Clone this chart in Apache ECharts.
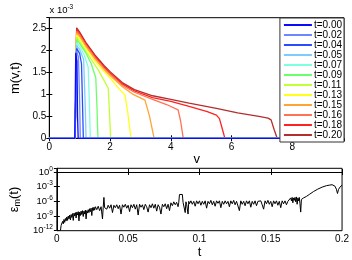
<!DOCTYPE html>
<html>
<head>
<meta charset="utf-8">
<script src="https://cdn.jsdelivr.net/npm/echarts@6/dist/echarts.min.js"></script>
<style>
html,body{margin:0;padding:0;background:#fff;}
#c{width:352px;height:260px;}
</style>
</head>
<body>
<div id="c"></div>
<script>
// ---- top panel data: m(v,t) in units of 1e-3, as [v, m] pairs ----
const legendNames = ['t=0.00','t=0.02','t=0.04','t=0.05','t=0.07','t=0.09','t=0.11','t=0.13','t=0.15','t=0.16','t=0.18','t=0.20'];
const c000 = [[0,0],[0.84,0],[0.87,1.95],[0.91,1.75],[0.93,0.5],[0.95,0],[9.7,0]];
const c002 = [[0,0],[0.85,0],[0.89,2.0],[0.96,1.85],[1.0,0.8],[1.02,0],[9.7,0]];
const c004 = [[0,0],[0.85,0],[0.9,2.05],[1.0,1.93],[1.06,1.7],[1.1,0.6],[1.12,0],[9.7,0]];
const c005 = [[0,0],[0.85,0],[0.9,2.12],[1.0,2.02],[1.13,1.8],[1.18,0.8],[1.21,0],[9.7,0]];
const c007 = [[0,0],[0.85,0],[0.9,2.18],[1.0,2.09],[1.15,1.9],[1.28,1.62],[1.32,0.8],[1.35,0],[9.7,0]];
const c009 = [[0,0],[0.85,0],[0.9,2.25],[1.0,2.16],[1.2,1.95],[1.38,1.7],[1.53,1.38],[1.57,0.7],[1.6,0],[9.7,0]];
const c011 = [[0,0],[0.85,0],[0.9,2.3],[1.0,2.21],[1.2,1.99],[1.4,1.78],[1.61,1.56],[1.8,1.32],[1.94,1.14],[1.98,0.6],[2.02,0],[9.7,0]];
const c013 = [[0,0],[0.85,0],[0.9,2.36],[1.0,2.27],[1.2,2.05],[1.5,1.76],[1.8,1.52],[2.0,1.38],[2.33,1.1],[2.49,0.99],[2.58,0.6],[2.69,0],[9.7,0]];
const c015 = [[0,0],[0.85,0],[0.9,2.4],[1.0,2.31],[1.2,2.09],[1.5,1.81],[1.8,1.57],[2.0,1.43],[2.4,1.18],[2.76,1.0],[3.15,0.87],[3.3,0.5],[3.45,0],[9.7,0]];
const c016 = [[0,0],[0.85,0],[0.9,2.44],[1.0,2.35],[1.2,2.13],[1.5,1.84],[1.8,1.6],[2.0,1.46],[2.4,1.21],[2.8,1.05],[3.4,0.89],[3.86,0.77],[4.24,0.65],[4.32,0.4],[4.41,0],[9.7,0]];
const c018 = [[0,0],[0.85,0],[0.9,2.48],[1.0,2.39],[1.2,2.16],[1.5,1.87],[1.8,1.63],[2.0,1.49],[2.4,1.24],[2.8,1.08],[3.4,0.93],[4.0,0.84],[4.6,0.73],[5.2,0.61],[5.5,0.53],[5.6,0.45],[5.7,0.2],[5.78,0],[9.7,0]];
const c020 = [[0,0],[0.85,0],[0.9,2.52],[1.0,2.42],[1.2,2.19],[1.5,1.9],[1.8,1.66],[2.0,1.52],[2.4,1.27],[2.8,1.11],[3.4,0.97],[4.0,0.89],[4.6,0.8],[5.5,0.68],[6.2,0.58],[6.9,0.5],[7.2,0.46],[7.3,0.42],[7.4,0.2],[7.5,0],[9.7,0]];
const curves = [c000,c002,c004,c005,c007,c009,c011,c013,c015,c016,c018,c020];
const curveColors = ['#0a0aff','#6f86ff','#2a4cff','#7fcbff','#7dffe0','#6cff6c','#c2ff33','#ffff1a','#ffa433','#ff7352','#ff2222','#b32e2e'];
const topXTicks = [0,2,4,6,8];
const topYTicks = [0,0.5,1,1.5,2,2.5];

// ---- bottom panel data: log10 of eps_m(t), as [t, log10(eps)] pairs ----
const epsLog10 = [
[0.0025,-12.0],[0.003,-10.9],[0.0035,-11.2],[0.004,-10.1],[0.0045,-10.6],[0.005,-9.7],[0.0055,-10.3],[0.006,-9.5],[0.0065,-10.0],[0.007,-9.2],
[0.0075,-9.9],[0.008,-9.0],[0.0085,-9.6],[0.009,-8.8],[0.0095,-9.8],[0.010,-8.7],[0.0105,-9.3],[0.011,-8.5],[0.0115,-9.9],[0.012,-8.4],
[0.0125,-9.0],[0.013,-8.3],[0.0135,-9.4],[0.014,-8.2],[0.0145,-8.8],[0.015,-8.1],[0.0155,-10.0],[0.016,-8.2],[0.0165,-8.9],[0.017,-8.0],
[0.0175,-8.7],[0.018,-7.9],[0.0185,-9.1],[0.019,-8.0],[0.0195,-8.6],[0.020,-7.8],[0.0205,-9.6],[0.021,-7.9],[0.0215,-8.4],[0.022,-7.7],
[0.0225,-8.3],[0.023,-7.5],[0.0235,-8.1],[0.024,-7.4],[0.0245,-8.9],[0.025,-7.3],[0.0255,-7.9],[0.026,-7.2],[0.0265,-7.8],[0.027,-7.1],
[0.028,-7.7],[0.029,-7.0],[0.030,-7.9],[0.031,-7.1],[0.032,-9.6],[0.0325,-7.2],[0.033,-5.2],[0.0335,-7.3],[0.034,-6.9],[0.035,-7.6],
[0.036,-6.8],[0.037,-7.4],[0.038,-6.7],[0.039,-8.3],[0.040,-6.8],[0.041,-7.3],[0.042,-6.7],[0.043,-7.5],[0.044,-6.8],[0.045,-8.6],
[0.046,-6.7],[0.047,-7.2],[0.048,-6.6],[0.049,-7.4],[0.050,-6.8],[0.051,-8.1],[0.052,-6.7],[0.053,-7.3],[0.054,-6.6],[0.055,-7.6],
[0.056,-6.7],[0.057,-8.8],[0.058,-6.6],[0.059,-7.2],[0.060,-6.7],[0.061,-7.7],[0.062,-6.6],[0.063,-7.1],[0.064,-8.2],[0.065,-6.7],
[0.066,-7.3],[0.067,-6.5],[0.068,-7.4],[0.069,-6.6],[0.070,-8.0],[0.071,-6.7],[0.072,-7.2],[0.073,-8.6],[0.074,-6.6],[0.075,-7.1],
[0.076,-6.5],[0.077,-7.5],[0.078,-6.6],[0.079,-7.9],[0.080,-6.3],[0.081,-6.9],[0.082,-6.1],[0.083,-6.7],[0.084,-6.2],[0.085,-7.1],
[0.0855,-6.2],[0.086,-4.6],[0.087,-4.5],[0.088,-4.6],[0.0885,-6.2],[0.089,-6.6],[0.090,-8.3],[0.0905,-6.1],[0.091,-6.6],[0.092,-8.6],
[0.0925,-6.0],[0.093,-6.5],[0.094,-5.9],[0.095,-6.6],[0.096,-6.0],[0.097,-7.0],[0.098,-5.9],[0.099,-6.5],[0.100,-5.9],[0.101,-6.8],
[0.102,-6.0],[0.103,-6.6],[0.104,-5.9],[0.105,-7.4],[0.106,-6.0],[0.107,-6.5],[0.108,-5.8],[0.109,-6.7],[0.110,-6.0],[0.111,-7.0],
[0.112,-5.9],[0.113,-6.4],[0.114,-5.9],[0.115,-7.3],[0.116,-6.0],[0.117,-6.6],[0.118,-5.9],[0.119,-6.5],[0.120,-6.0],[0.121,-7.1],
[0.122,-5.9],[0.123,-6.5],[0.124,-5.8],[0.125,-6.7],[0.126,-6.0],[0.127,-6.4],[0.128,-7.9],[0.129,-5.9],[0.130,-6.6],[0.131,-6.0],
[0.132,-6.9],[0.133,-5.9],[0.134,-6.5],[0.135,-5.9],[0.136,-7.2],[0.137,-6.0],[0.138,-6.6],[0.139,-5.9],[0.140,-6.9],[0.141,-6.0],
[0.142,-6.4],[0.143,-5.9],[0.144,-6.7],[0.145,-7.6],[0.146,-5.9],[0.147,-6.5],[0.148,-5.8],[0.149,-6.6],[0.150,-6.0],[0.151,-7.1],
[0.152,-5.9],[0.153,-6.5],[0.154,-5.9],[0.155,-6.8],[0.156,-6.0],[0.157,-7.3],[0.158,-5.9],[0.159,-6.5],[0.160,-5.9],[0.161,-6.7],
[0.162,-6.0],[0.163,-6.4],[0.164,-5.3],[0.1645,-5.9],[0.165,-5.2],[0.1655,-6.3],[0.166,-5.3],[0.1665,-5.8],[0.167,-5.2],[0.1675,-6.1],
[0.168,-5.1],[0.1685,-6.6],[0.169,-5.3],[0.1695,-5.9],[0.170,-5.2],[0.1705,-6.5],[0.171,-8.2],[0.1715,-5.6],[0.172,-5.2],[0.1725,-5.9],
[0.173,-5.3],[0.174,-5.1],[0.175,-5.0],[0.177,-4.6],[0.180,-4.0],[0.183,-3.5],[0.186,-3.1],[0.189,-2.8],[0.191,-2.7],[0.193,-2.6],
[0.195,-2.9],[0.196,-3.5],[0.1968,-4.4],[0.1975,-3.6],[0.1985,-3.1],[0.2,-2.7]
];
const botXTicks = [0,0.05,0.1,0.15,0.2];
const botYTickExponents = [-12,-9,-6,-3,0];

// ---- chart ----
const FONT = 'Liberation Sans, Arial, Helvetica, sans-serif';
const AX = '#000';
const chart = echarts.init(document.getElementById('c'), null, {renderer: 'canvas'});

function tickAxisBase(extra) {
  return Object.assign({
    axisLine: {show: true, lineStyle: {color: AX, width: 1}},
    axisTick: {show: true, inside: true, length: 3, lineStyle: {color: AX}},
    splitLine: {show: false},
    axisLabel: {color: AX, fontFamily: FONT, fontSize: 10},
  }, extra);
}

const series = [];
for (let i = curves.length - 1; i >= 0; i--) {
  series.push({
    type: 'line', name: legendNames[i], data: curves[i],
    xAxisIndex: 0, yAxisIndex: 0,
    showSymbol: false, symbol: 'none', color: curveColors[i],
    lineStyle: {width: 1.3, color: curveColors[i]}, silent: true
  });
}
series.push({
  type: 'line', name: 'eps', data: epsLog10, xAxisIndex: 2, yAxisIndex: 2,
  showSymbol: false, symbol: 'none', color: '#000',
  lineStyle: {width: 1, color: '#000'}, silent: true
});

const option = {
  animation: false,
  backgroundColor: '#fff',
  textStyle: {fontFamily: FONT},
  grid: [
    {left: 49.3, top: 17.7, right: 8, height: 120.6, show: true, borderColor: AX, borderWidth: 1, backgroundColor: 'transparent'},
    {left: 49.3, top: 168.3, right: 8, height: 62.4, show: true, borderColor: AX, borderWidth: 1, backgroundColor: 'transparent'}
  ],
  xAxis: [
    tickAxisBase({type: 'value', gridIndex: 0, min: 0, max: 9.7, interval: 2,
      name: 'v', nameLocation: 'middle', nameGap: 14,
      nameTextStyle: {color: AX, fontSize: 13, fontFamily: FONT},
      axisLabel: {color: AX, fontFamily: FONT, fontSize: 10, margin: 4, showMaxLabel: false,
        formatter: v => topXTicks.indexOf(v) >= 0 ? String(v) : ''}}),
    tickAxisBase({type: 'value', gridIndex: 0, position: 'top', min: 0, max: 9.7, interval: 2,
      axisLine: {show: false}, axisLabel: {show: false}}),
    tickAxisBase({type: 'value', gridIndex: 1, min: 0, max: 0.2, interval: 0.05,
      name: 't', nameLocation: 'middle', nameGap: 14,
      nameTextStyle: {color: AX, fontSize: 13, fontFamily: FONT},
      axisLabel: {color: AX, fontFamily: FONT, fontSize: 10, margin: 4,
        formatter: v => { const k = botXTicks.find(x => Math.abs(x - v) < 1e-9); return k === undefined ? '' : String(k); }}}),
    tickAxisBase({type: 'value', gridIndex: 1, position: 'top', min: 0, max: 0.2, interval: 0.05,
      axisLine: {show: false}, axisLabel: {show: false}})
  ],
  yAxis: [
    tickAxisBase({type: 'value', gridIndex: 0, min: 0, max: 2.75, interval: 0.5,
      name: 'm(v,t)', nameLocation: 'middle', nameGap: 14, nameRotate: 90,
      nameTextStyle: {color: AX, fontSize: 13, fontFamily: FONT},
      axisLabel: {color: AX, fontFamily: FONT, fontSize: 10, margin: 3, showMaxLabel: false,
        formatter: v => topYTicks.indexOf(v) >= 0 ? String(v) : ''}}),
    tickAxisBase({type: 'value', gridIndex: 0, position: 'right', min: 0, max: 2.75, interval: 0.5,
      axisLine: {show: false}, axisLabel: {show: false}}),
    tickAxisBase({type: 'value', gridIndex: 1, min: -12, max: 0.75, interval: 3,
      name: '{e|ε}{s|m}{e|(t)}', nameLocation: 'middle', nameGap: 28, nameRotate: 90,
      nameTextStyle: {color: AX, fontFamily: FONT,
        rich: {e: {fontSize: 13, fontFamily: FONT, color: AX}, s: {fontSize: 9, fontFamily: FONT, color: AX, verticalAlign: 'bottom', padding: [6, 0, 0, 0]}}},
      axisLabel: {color: AX, fontFamily: FONT, margin: 4, showMaxLabel: false,
        formatter: v => botYTickExponents.indexOf(v) >= 0 ? '{b|10}{p|' + (v === 0 ? '0' : '-' + Math.abs(v)) + '}' : '',
        rich: {b: {fontSize: 9.5, fontFamily: FONT, color: AX}, p: {fontSize: 6.5, fontFamily: FONT, color: AX, verticalAlign: 'top', padding: [0, 0, 6, 0]}}}}),
    tickAxisBase({type: 'value', gridIndex: 1, position: 'right', min: -12, max: 0.75, interval: 3,
      axisLine: {show: false}, axisLabel: {show: false}})
  ],
  legend: {
    data: legendNames,
    orient: 'vertical',
    right: 8, top: 18,
    icon: 'rect', itemWidth: 28, itemHeight: 2, itemGap: 0,
    padding: [2, 2, 2, 4],
    backgroundColor: '#fff', borderColor: '#333', borderWidth: 1, borderRadius: 0,
    selectedMode: false,
    textStyle: {color: AX, fontSize: 10, fontFamily: FONT, lineHeight: 8.55, padding: [0, 0, 0, -3]}
  },
  graphic: [{
    type: 'text', left: 49.5, top: 4,
    style: {text: '{b|x 10}{p|-3}', fill: AX,
      rich: {b: {fontSize: 9.5, fontFamily: FONT, fill: AX}, p: {fontSize: 6.5, fontFamily: FONT, fill: AX, verticalAlign: 'top', padding: [0, 0, 5, 0]}}}
  }],
  series: series
};
chart.setOption(option);
</script>
</body>
</html>
